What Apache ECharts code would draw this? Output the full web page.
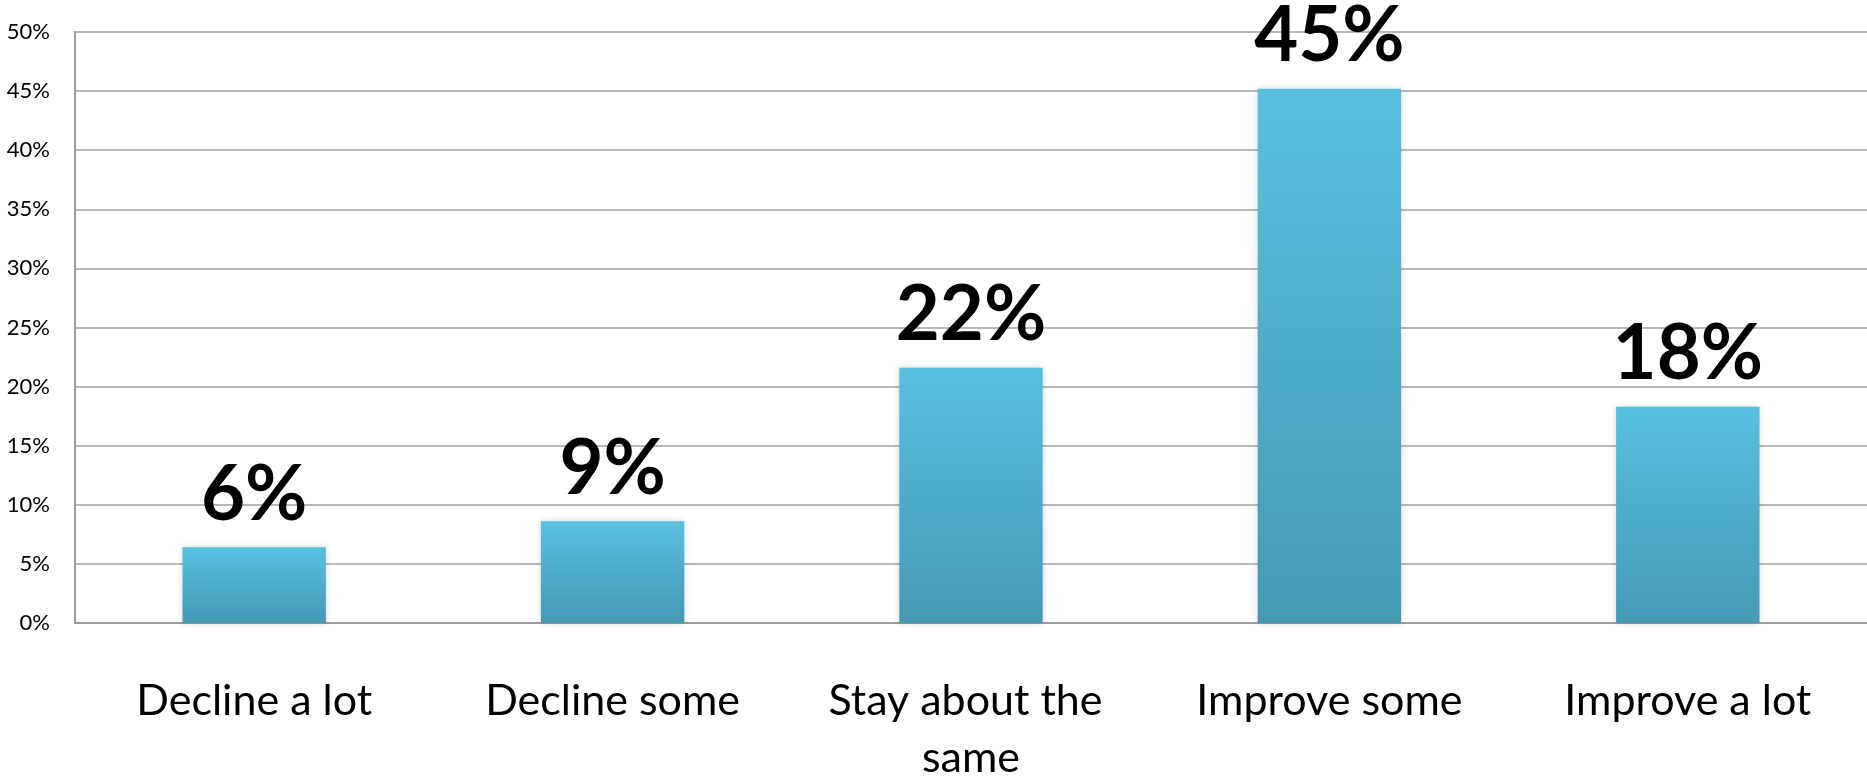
<!DOCTYPE html>
<html>
<head>
<meta charset="utf-8">
<script src="https://cdn.jsdelivr.net/npm/echarts@6/dist/echarts.min.js"></script>
<style>
html,body{margin:0;padding:0;background:#fff;}
#chart{width:1867px;height:777px;}
</style>
</head>
<body>
<div id="chart"></div>
<script>
const categories = ["Decline a lot", "Decline some", "Stay about the same", "Improve some", "Improve a lot"];
const values = [6.4, 8.6, 21.6, 45.2, 18.3];
const yTicks = [0, 5, 10, 15, 20, 25, 30, 35, 40, 45, 50];

const chart = echarts.init(document.getElementById('chart'));
chart.setOption({
  animation: false,
  backgroundColor: '#ffffff',
  grid: { left: 75, right: 0, top: 32, bottom: 154, containLabel: false, outerBoundsMode: 'none' },
  xAxis: {
    type: 'category',
    data: categories,
    axisLine: { show: true, lineStyle: { color: '#9c9c9c', width: 2 } },
    axisTick: { show: false },
    axisLabel: {
      color: '#000',
      fontFamily: 'Lato',
      fontSize: 43,
      lineHeight: 57,
      margin: 50,
      width: 320,
      overflow: 'break',
      interval: 0
    }
  },
  yAxis: {
    type: 'value',
    min: yTicks[0],
    max: yTicks[yTicks.length - 1],
    interval: yTicks[1] - yTicks[0],
    axisLine: { show: true, lineStyle: { color: '#9c9c9c', width: 2 } },
    axisTick: { show: false },
    splitLine: { show: true, lineStyle: { color: '#a0a0a0', width: 1.5 } },
    axisLabel: {
      color: '#000',
      fontFamily: 'Lato',
      fontSize: 22,
      margin: 25,
      formatter: v => v + '%'
    }
  },
  series: [{
    type: 'bar',
    data: values,
    barWidth: '40%',
    itemStyle: {
      color: new echarts.graphic.LinearGradient(0, 0, 0, 1, [
        { offset: 0, color: '#58c0e0' },
        { offset: 1, color: '#4599b3' }
      ]),
      shadowBlur: 6,
      shadowColor: 'rgba(0,0,0,0.18)'
    },
    label: {
      show: true,
      position: 'top',
      distance: 14,
      color: '#000',
      fontFamily: 'Lato',
      fontWeight: 'bold',
      fontSize: 76,
      lineHeight: 76,
      formatter: p => Math.round(p.value) + '%'
    }
  }]
});
</script>
</body>
</html>
